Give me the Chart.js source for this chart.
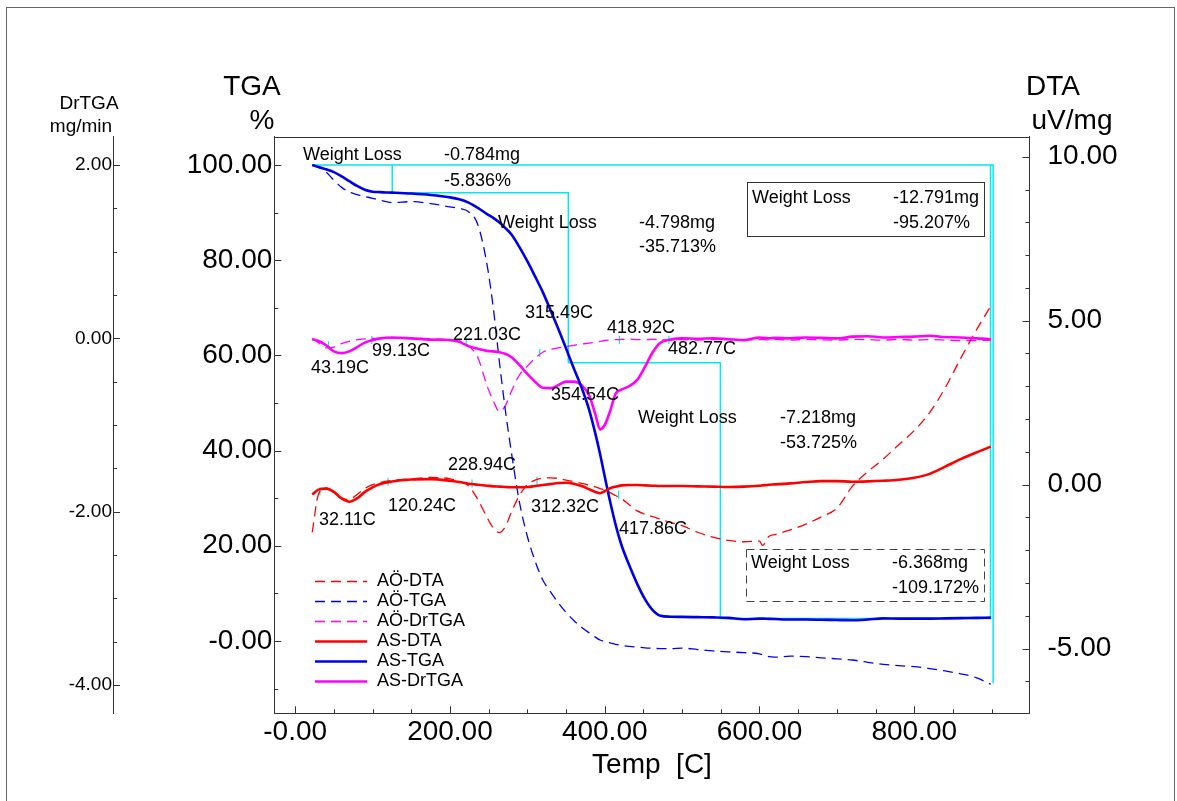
<!DOCTYPE html>
<html>
<head>
<meta charset="utf-8">
<script src="https://cdn.jsdelivr.net/npm/chart.js@4.4.1/dist/chart.umd.min.js"></script>
<style>
html, body { margin: 0; padding: 0; background: #fff; }
canvas { display: block; }
</style>
</head>
<body>
<canvas id="thermo" width="1177" height="801"></canvas>
<script>
// --- Data ---
const temps = [22, 30, 40, 50, 60, 70, 80, 90, 100, 110, 125, 150, 175, 200, 212, 224, 236, 248, 256, 264,
  272, 280, 290, 300, 310, 320, 330, 340, 350, 360, 370, 380, 388, 394, 400, 407, 414, 422, 432, 442,
  452, 462, 472, 485, 500, 520, 540, 560, 580, 600, 604, 612, 620, 640, 660, 680, 700, 720, 740, 760,
  780, 800, 820, 840, 860, 880, 899];

const aoDta = [-1.45, -0.3, -0.1, -0.24, -0.42, -0.45, -0.3, -0.12, 0.0, 0.07, 0.13, 0.18, 0.22, 0.18, 0.1, -0.03, -0.45, -1.0, -1.32, -1.46,
  -1.26, -0.8, -0.32, 0.0, 0.14, 0.2, 0.21, 0.19, 0.14, 0.09, 0.04, -0.01, -0.07, -0.12, -0.16, -0.24, -0.33, -0.43, -0.62, -0.8,
  -0.9, -0.97, -1.05, -1.15, -1.25, -1.45, -1.6, -1.7, -1.74, -1.72, -1.85, -1.58, -1.52, -1.38, -1.2, -0.98, -0.72, -0.05, 0.4, 0.78,
  1.22, 1.65, 2.2, 2.95, 3.85, 4.7, 5.45];

const aoTga = [100, 99.5, 98.5, 96.8, 95.3, 94.3, 93.8, 93.4, 93.0, 92.6, 92.1, 92.3, 91.9, 91.2, 90.9, 90.2, 87.5, 79.0, 70.0, 58.5,
  48.0, 39.0, 29.0, 22.0, 16.8, 12.8, 10.3, 8.0, 6.0, 4.3, 2.9, 1.7, 0.8, 0.2, -0.1, -0.4, -0.7, -0.95, -1.15, -1.3,
  -1.45, -1.55, -1.6, -1.6, -1.5, -1.8, -2.1, -2.3, -2.45, -2.7, -2.9, -3.3, -3.4, -3.2, -3.3, -3.55, -3.75, -4.0, -4.5, -4.9,
  -5.2, -5.4, -5.8, -6.3, -6.9, -7.7, -9.1];

const aoDr = [0.0, -0.05, -0.11, -0.1, -0.06, -0.035, -0.015, -0.005, 0.0, 0.0, 0.005, 0.0, -0.005, -0.015, -0.03, -0.09, -0.22, -0.55, -0.72, -0.845,
  -0.77, -0.6, -0.42, -0.32, -0.23, -0.16, -0.13, -0.11, -0.095, -0.08, -0.065, -0.055, -0.045, -0.035, -0.025, -0.02, -0.015, -0.012, -0.01, -0.015,
  -0.015, -0.012, -0.015, -0.02, -0.015, -0.02, -0.015, -0.012, -0.02, -0.015, -0.012, -0.018, -0.012, -0.02, -0.012, -0.018, -0.02, -0.012, -0.015, -0.02,
  -0.012, -0.02, -0.015, -0.02, -0.025, -0.025, -0.02];

const asDta = [-0.3, -0.15, -0.12, -0.22, -0.42, -0.52, -0.42, -0.22, -0.08, 0.02, 0.1, 0.16, 0.17, 0.12, 0.08, 0.03, 0.0, -0.03, -0.05, -0.06,
  -0.07, -0.08, -0.08, -0.07, -0.04, -0.01, 0.02, 0.05, 0.06, 0.03, -0.04, -0.14, -0.22, -0.26, -0.2, -0.11, -0.06, -0.02, -0.01, -0.01,
  -0.02, -0.03, -0.04, -0.04, -0.04, -0.05, -0.06, -0.07, -0.06, -0.03, -0.02, 0.0, 0.01, 0.04, 0.08, 0.11, 0.11, 0.09, 0.1, 0.12,
  0.15, 0.21, 0.33, 0.55, 0.78, 0.98, 1.16];

const asTga = [100, 99.6, 99.1, 98.5, 97.6, 96.6, 95.6, 94.8, 94.4, 94.3, 94.2, 94.0, 93.7, 93.2, 92.8, 92.1, 91.0, 89.7, 88.9, 87.9,
  86.7, 85.3, 82.7, 79.8, 76.6, 73.3, 69.5, 65.6, 61.5, 57.3, 53.3, 48.5, 43.5, 39.3, 34.6, 29.3, 24.5, 20.0, 15.8, 12.0,
  8.8, 6.5, 5.3, 5.1, 5.05, 5.0, 4.95, 4.85, 4.55, 4.7, 4.7, 4.65, 4.6, 4.5, 4.5, 4.45, 4.4, 4.35, 4.5, 4.75,
  4.7, 4.7, 4.7, 4.75, 4.8, 4.85, 4.9];

const asDr = [-0.01, -0.03, -0.08, -0.15, -0.17, -0.15, -0.1, -0.05, -0.02, 0.0, 0.01, 0.0, -0.015, -0.02, -0.04, -0.09, -0.12, -0.145, -0.15, -0.16,
  -0.18, -0.22, -0.31, -0.41, -0.5, -0.57, -0.575, -0.54, -0.5, -0.5, -0.54, -0.66, -0.88, -1.05, -1.0, -0.84, -0.64, -0.59, -0.55, -0.48,
  -0.33, -0.16, -0.05, -0.015, 0.0, -0.005, 0.0, -0.01, -0.02, 0.01, 0.005, 0.0, 0.005, 0.0, 0.01, 0.005, 0.0, 0.02, 0.025, 0.01,
  0.015, 0.02, 0.03, 0.015, 0.01, 0.0, -0.01];

// weight-loss step analysis (TGA %)
const stepTemps = [21.6, 125.4, 353, 549.5, 898.6];
const stepLevels = [100, 94.164, 58.451, 4.726];
const aoEndTemp = 902;
const aoEndLevel = -8.9;

// peak markers
const drMarkT = [43, 99, 221, 316, 419, 483];
const drMarkV = [-0.08, -0.02, -0.04, -0.17, -0.015, -0.02];
const dtaMarkT = [32, 120, 228.5, 312.5, 418];
const dtaMarkV = [-0.2, 0.09, 0.04, 0.12, -0.31];

// axes
const xMajor = [0, 200, 400, 600, 800];
const xLabels = ['-0.00', '200.00', '400.00', '600.00', '800.00'];
const xMinor = [50, 100, 150, 250, 300, 350, 450, 500, 550, 650, 700, 750, 850, 900];
const tgaMajor = [0, 20, 40, 60, 80, 100];
const tgaLabels = ['-0.00', '20.00', '40.00', '60.00', '80.00', '100.00'];
const tgaMinor = [-10, 10, 30, 50, 70, 90];
const drMajor = [-4, -2, 0, 2];
const drLabels = ['-4.00', '-2.00', '0.00', '2.00'];
const drMinor = [-3.5, -3, -2.5, -1.5, -1, -0.5, 0.5, 1, 1.5];
const dtaMajor = [-5, 0, 5, 10];
const dtaLabels = ['-5.00', '0.00', '5.00', '10.00'];
const dtaMinor = [-6, -4, -3, -2, -1, 1, 2, 3, 4, 6, 7, 8, 9];

const legendNames = ['AÖ-DTA', 'AÖ-TGA', 'AÖ-DrTGA', 'AS-DTA', 'AS-TGA', 'AS-DrTGA'];

const notes = [
  ['Weight Loss', 303, 155], ['-0.784mg', 444, 155], ['-5.836%', 444, 181],
  ['Weight Loss', 498, 223], ['-4.798mg', 639, 223], ['-35.713%', 639, 247],
  ['Weight Loss', 752, 198], ['-12.791mg', 893, 198], ['-95.207%', 893, 223],
  ['315.49C', 525, 313], ['418.92C', 607, 328], ['482.77C', 668, 349],
  ['221.03C', 453, 335], ['99.13C', 372, 351], ['43.19C', 311, 368],
  ['354.54C', 551, 395],
  ['Weight Loss', 638, 418], ['-7.218mg', 780, 418], ['-53.725%', 780, 443],
  ['228.94C', 448, 465], ['120.24C', 388, 506], ['32.11C', 319, 520],
  ['312.32C', 531, 507], ['417.86C', 619, 529],
  ['Weight Loss', 751, 563], ['-6.368mg', 892, 563], ['-109.172%', 892, 588]
];

const FONT = "'Liberation Sans', Arial, sans-serif";
const CYAN = '#00e8f0';
const DASH = [10, 6];

// --- helpers ---
const pts = (xs, ys) => xs.map((x, i) => ({ x: x, y: ys[i] }));

function stepPoints() {
  const p = [{ x: stepTemps[0], y: stepLevels[0] }, { x: aoEndTemp, y: stepLevels[0] }, { x: aoEndTemp, y: aoEndLevel },
    { x: aoEndTemp, y: null }];
  p.push({ x: stepTemps[1], y: stepLevels[0] });
  for (let i = 1; i < stepLevels.length; i++) {
    p.push({ x: stepTemps[i], y: stepLevels[i] });
    p.push({ x: stepTemps[i + 1], y: stepLevels[i] });
  }
  p.push({ x: stepTemps[stepTemps.length - 1], y: stepLevels[0] });
  return p;
}

function curve(label, data, color, width, dashed, axis, order) {
  return {
    label: label, data: data, yAxisID: axis, order: order,
    borderColor: color, backgroundColor: color, borderWidth: width,
    borderDash: dashed ? DASH : [], pointRadius: 0, fill: false,
    cubicInterpolationMode: 'monotone'
  };
}

function marks(data, axis) {
  return {
    data: data, yAxisID: axis, order: 3, showLine: false,
    pointStyle: 'line', pointRotation: 90, pointRadius: 4,
    pointBorderColor: CYAN, pointBorderWidth: 1.2, borderColor: CYAN
  };
}

function axis(pos, min, max, major, labels, size, pad, fontSize, weight) {
  return {
    type: 'linear', position: pos, min: min, max: max, weight: weight,
    grid: { display: false, drawTicks: false },
    border: { display: true, color: '#333', width: 1 },
    title: { display: false },
    ticks: {
      padding: pad, color: '#000', autoSkip: false, maxRotation: 0,
      font: { family: FONT, size: fontSize },
      callback: v => { const i = major.indexOf(v); return i < 0 ? '' : labels[i]; }
    },
    afterBuildTicks: s => { s.ticks = major.map(v => ({ value: v })); },
    afterFit: s => { if (s.isHorizontal()) s.height = size; else s.width = size; }
  };
}

// inward tick marks, frame, notes and legend
const tickSpec = {
  x: [xMajor, xMinor], yTga: [tgaMajor, tgaMinor], yDr: [drMajor, drMinor], yDta: [dtaMajor, dtaMinor]
};

const decor = {
  id: 'decor',
  afterDraw(chart) {
    const { ctx, chartArea: a, scales } = chart;
    ctx.save();

    // outer figure border
    ctx.strokeStyle = '#666';
    ctx.lineWidth = 1;
    ctx.strokeRect(6.5, 7.5, 1168, 810);

    // top frame line of plot
    ctx.strokeStyle = '#333';
    ctx.beginPath();
    ctx.moveTo(a.left, Math.round(a.top) + 0.5);
    ctx.lineTo(a.right, Math.round(a.top) + 0.5);
    ctx.stroke();

    // ticks pointing into the plot
    Object.keys(tickSpec).forEach(id => {
      const s = scales[id];
      [[tickSpec[id][0], 7], [tickSpec[id][1], 4]].forEach(([vals, len]) => {
        vals.forEach(v => {
          const p = Math.round(s.getPixelForValue(v)) + 0.5;
          ctx.beginPath();
          if (s.position === 'bottom') {
            ctx.moveTo(p, s.top); ctx.lineTo(p, s.top - len);
          } else if (s.position === 'left') {
            ctx.moveTo(s.right, p); ctx.lineTo(s.right + len, p);
          } else {
            ctx.moveTo(s.left, p); ctx.lineTo(s.left - len, p);
          }
          ctx.stroke();
        });
      });
    });

    // axis titles
    ctx.fillStyle = '#000';
    ctx.textBaseline = 'middle';
    ctx.textAlign = 'center';
    ctx.font = '28px ' + FONT;
    ctx.fillText('TGA', 252, 87);
    ctx.fillText('%', 262, 121);
    ctx.fillText('DTA', 1053, 87);
    ctx.fillText('uV/mg', 1072, 121);
    ctx.fillText('Temp  [C]', 652, 765);
    ctx.font = '19px ' + FONT;
    ctx.fillText('DrTGA', 89, 104);
    ctx.fillText('mg/min', 81, 127);

    // weight loss boxes
    ctx.strokeStyle = '#333';
    ctx.strokeRect(747.5, 182.5, 237, 54);
    ctx.strokeStyle = '#444';
    ctx.setLineDash([8, 5]);
    ctx.strokeRect(746.5, 549.5, 238, 52);
    ctx.setLineDash([]);

    // annotations
    ctx.textAlign = 'left';
    ctx.font = '18px ' + FONT;
    notes.forEach(([t, x, y]) => ctx.fillText(t, x, y));

    // legend
    legendNames.forEach((name, i) => {
      const ds = chart.data.datasets[i];
      const y = Math.round(581 + i * 20) + 0.5;
      ctx.strokeStyle = ds.borderColor;
      ctx.lineWidth = ds.borderWidth;
      ctx.setLineDash(ds.borderDash);
      ctx.beginPath();
      ctx.moveTo(315, y); ctx.lineTo(367, y);
      ctx.stroke();
      ctx.setLineDash([]);
      ctx.fillText(name, 377, y);
    });

    ctx.restore();
  }
};

// --- chart ---
new Chart(document.getElementById('thermo').getContext('2d'), {
  type: 'line',
  data: {
    datasets: [
      curve(legendNames[0], pts(temps, aoDta), '#ff0000', 1.3, true, 'yDta', 1),
      curve(legendNames[1], pts(temps, aoTga), '#0000ff', 1.3, true, 'yTga', 1),
      curve(legendNames[2], pts(temps, aoDr), '#ff00ff', 1.3, true, 'yDr', 1),
      curve(legendNames[3], pts(temps, asDta), '#ff0000', 2.6, false, 'yDta', 0),
      curve(legendNames[4], pts(temps, asTga), '#0000e8', 2.6, false, 'yTga', 0),
      curve(legendNames[5], pts(temps, asDr), '#ff00ff', 2.6, false, 'yDr', 0),
      {
        data: stepPoints(), yAxisID: 'yTga', order: 2, borderColor: CYAN, borderWidth: 1.5,
        pointRadius: 0, tension: 0, spanGaps: false, fill: false
      },
      marks(pts(drMarkT, drMarkV), 'yDr'),
      marks(pts(dtaMarkT, dtaMarkV), 'yDta')
    ]
  },
  options: {
    responsive: false,
    animation: false,
    devicePixelRatio: 1,
    layout: { padding: { top: 136.7, left: 0, right: 0, bottom: 0 } },
    plugins: { legend: { display: false }, tooltip: { enabled: false } },
    scales: {
      x: axis('bottom', -27, 949, xMajor, xLabels, 87.7, 2, 28, 0),
      yTga: axis('left', -15.2, 105.95, tgaMajor, tgaLabels, 161.3, 2, 28, 0),
      yDr: axis('left', -4.327, 2.327, drMajor, drLabels, 113, 1, 19, 1),
      yDta: axis('right', -6.97, 10.61, dtaMajor, dtaLabels, 147.5, 18, 28, 0)
    }
  },
  plugins: [decor]
});
</script>
</body>
</html>
